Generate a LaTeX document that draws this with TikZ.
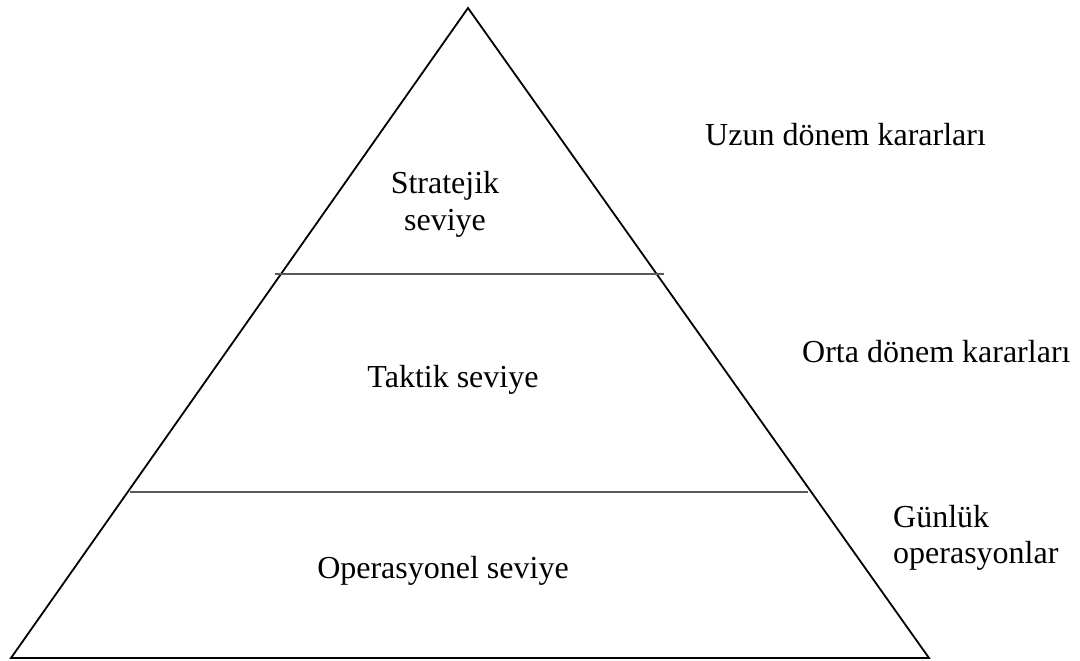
\documentclass[tikz,border=0pt]{standalone}
\usepackage{fontspec}
\setmainfont{Liberation Serif}
\begin{document}
\begin{tikzpicture}[x=1pt,y=-1pt,
  edge/.style={line width=1.8pt,black,line join=miter},
  divider/.style={line width=1.6pt,black!65},
  label/.style={inner sep=0pt,font=\fontsize{32}{37}\selectfont},
  side/.style={label,anchor=base west}]
  \useasboundingbox (0,0) rectangle (1080,661);

  % pyramid outline
  \coordinate (apex) at (468,8);
  \coordinate (bl) at (11,658);
  \coordinate (br) at (929,658);
  \draw[edge] (apex) -- (br) -- (bl) -- cycle;

  % level dividers
  \coordinate (d1l) at (275,274);
  \coordinate (d1r) at (664,274);
  \coordinate (d2l) at (130,492);
  \coordinate (d2r) at (808,492);
  \draw[divider] (d1l) -- (d1r);
  \draw[divider] (d2l) -- (d2r);

  % level names
  \node[label,align=center] (strat) at (445,204) {Stratejik\\seviye};
  \node[label,anchor=base] (tact) at (453,387) {Taktik seviye};
  \node[label,anchor=base] (oper) at (443,578) {Operasyonel seviye};

  % decision horizons
  \node[side] (long) at (705,145) {Uzun dönem kararları};
  \node[side] (mid) at (802,362) {Orta dönem kararları};
  \node[label,align=left,anchor=west,font=\fontsize{32}{36}\selectfont] (daily) at (893,538) {Günlük\\operasyonlar};
\end{tikzpicture}
\end{document}
